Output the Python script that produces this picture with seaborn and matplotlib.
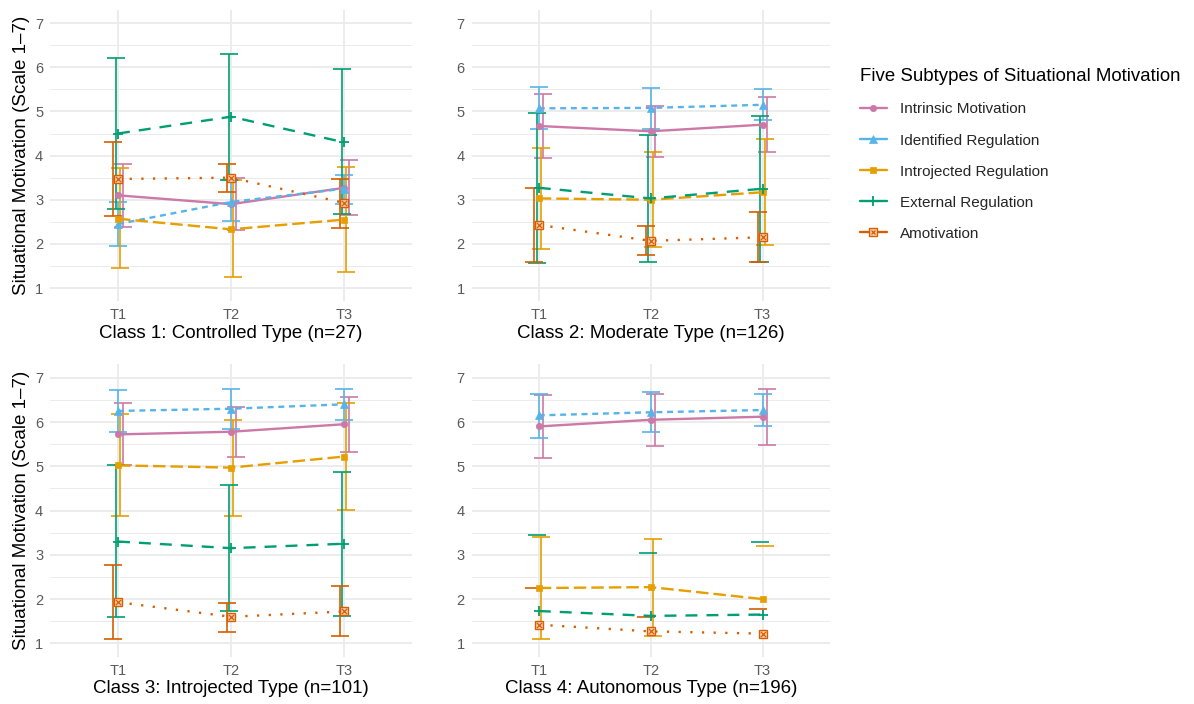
import numpy as np
import pandas as pd
import matplotlib
matplotlib.use("Agg")
import matplotlib.pyplot as plt
import seaborn as sns
from matplotlib.lines import Line2D
from matplotlib.ticker import MultipleLocator

# === data ===
times = ["T1", "T2", "T3"]
subtypes = ["Intrinsic Motivation", "Identified Regulation", "Introjected Regulation",
            "External Regulation", "Amotivation"]
class_titles = ["Class 1: Controlled Type (n=27)", "Class 2: Moderate Type (n=126)",
                "Class 3: Introjected Type (n=101)", "Class 4: Autonomous Type (n=196)"]

# rows follow subtypes, columns follow times
class1_mean = [[3.10, 2.90, 3.27], [2.45, 2.95, 3.25], [2.57, 2.33, 2.55], [4.50, 4.88, 4.30], [3.47, 3.50, 2.93]]
class1_low = [[2.38, 2.32, 2.65], [1.95, 2.52, 2.90], [1.45, 1.25, 1.37], [2.78, 3.45, 2.68], [2.63, 3.17, 2.35]]
class1_high = [[3.80, 3.50, 3.90], [2.95, 3.45, 3.55], [3.72, 3.45, 3.75], [6.20, 6.30, 5.95], [4.30, 3.82, 3.47]]

class2_mean = [[4.67, 4.55, 4.70], [5.07, 5.08, 5.15], [3.03, 3.00, 3.17], [3.27, 3.03, 3.25], [2.43, 2.07, 2.15]]
class2_low = [[3.95, 3.97, 4.07], [4.60, 4.60, 4.80], [1.88, 1.92, 1.97], [1.57, 1.60, 1.60], [1.60, 1.75, 1.60]]
class2_high = [[5.40, 5.13, 5.33], [5.55, 5.53, 5.50], [4.17, 4.07, 4.37], [4.97, 4.47, 4.90], [3.27, 2.40, 2.72]]

class3_mean = [[5.72, 5.78, 5.95], [6.25, 6.30, 6.40], [5.02, 4.97, 5.22], [3.30, 3.15, 3.25], [1.93, 1.60, 1.72]]
class3_low = [[5.02, 5.20, 5.33], [5.77, 5.85, 6.05], [3.88, 3.88, 4.02], [1.60, 1.72, 1.62], [1.10, 1.25, 1.17]]
class3_high = [[6.43, 6.35, 6.57], [6.73, 6.75, 6.75], [6.17, 6.05, 6.42], [5.02, 4.58, 4.88], [2.77, 1.92, 2.30]]

class4_mean = [[5.90, 6.05, 6.12], [6.15, 6.22, 6.27], [2.25, 2.27, 2.00], [1.73, 1.62, 1.65], [1.42, 1.27, 1.22]]
class4_low = [[5.18, 5.45, 5.48], [5.65, 5.78, 5.90], [1.10, 1.17, np.nan], [np.nan, np.nan, np.nan], [np.nan, np.nan, np.nan]]
class4_high = [[6.62, 6.63, 6.75], [6.63, 6.68, 6.63], [3.40, 3.35, 3.20], [3.45, 3.05, 3.28], [2.25, 1.60, 1.78]]

class_means = [class1_mean, class2_mean, class3_mean, class4_mean]
class_lows = [class1_low, class2_low, class3_low, class4_low]
class_highs = [class1_high, class2_high, class3_high, class4_high]

rows = []
for c, title in enumerate(class_titles):
    for s, sub in enumerate(subtypes):
        for t, tm in enumerate(times):
            rows.append({"cls": title, "subtype": sub, "time": tm, "t": t + 1,
                         "mean": class_means[c][s][t], "low": class_lows[c][s][t],
                         "high": class_highs[c][s][t]})
df = pd.DataFrame(rows)

# === style ===
colors = {"Intrinsic Motivation": "#CC79A7", "Identified Regulation": "#56B4E9",
          "Introjected Regulation": "#E69F00", "External Regulation": "#009E73",
          "Amotivation": "#D55E00"}
line_styles = {"Intrinsic Motivation": "-", "Identified Regulation": (0, (4.3, 3.4)),
               "Introjected Regulation": (0, (9.0, 3.6)), "External Regulation": (0, (8.6, 6.5)),
               "Amotivation": (0, (1.6, 6.8))}
markers = {"Intrinsic Motivation": "o", "Identified Regulation": "^",
           "Introjected Regulation": "s", "External Regulation": "+", "Amotivation": "s"}
marker_sizes = {"Intrinsic Motivation": 4.6, "Identified Regulation": 5.2,
                "Introjected Regulation": 4.6, "External Regulation": 7, "Amotivation": 5.2}
dodge = {"Intrinsic Motivation": 0.04, "Identified Regulation": 0.0,
         "Introjected Regulation": 0.02, "External Regulation": -0.02, "Amotivation": -0.04}
amot_fill = "#F8CDB0"

sns.set_theme(style="whitegrid")
plt.rcParams["font.family"] = ["Liberation Sans", "DejaVu Sans"]
plt.rcParams["lines.scale_dashes"] = False

fig = plt.figure(figsize=(11.94, 7.04), dpi=100)
rects = [[0.042, 0.572, 0.303, 0.414], [0.395, 0.572, 0.300, 0.414],
         [0.042, 0.0673, 0.303, 0.415], [0.395, 0.0673, 0.300, 0.415]]

for i, title in enumerate(class_titles):
    ax = fig.add_axes(rects[i])
    d = df[df["cls"] == title]

    # error bars, dodged a little
    for sub in subtypes:
        ds = d[d["subtype"] == sub]
        x = ds["t"] + dodge[sub]
        full = ds["low"].notna()
        if full.any():
            ax.errorbar(x[full], ds["mean"][full],
                        yerr=[ds["mean"][full] - ds["low"][full], ds["high"][full] - ds["mean"][full]],
                        fmt="none", ecolor=colors[sub], elinewidth=1.2, capsize=6.5,
                        capthick=1.2, zorder=2)
        if (~full).any():
            # lower end falls outside the scale: only the top cap is left
            ax.plot(x[~full], ds["high"][~full], ls="none", marker="_", ms=13,
                    mew=1.2, color=colors[sub], zorder=2)

    # lines + points
    for sub in subtypes:
        ds = d[d["subtype"] == sub]
        if sub == "Amotivation":
            sns.lineplot(data=ds, x="t", y="mean", color=colors[sub], linestyle=line_styles[sub],
                         linewidth=1.7, marker="s", markersize=marker_sizes[sub],
                         markerfacecolor=amot_fill, markeredgecolor=colors[sub],
                         markeredgewidth=1.0, ax=ax, zorder=3, legend=False)
            sns.scatterplot(data=ds, x="t", y="mean", marker="x", s=14, color=colors[sub],
                            linewidth=0.9, ax=ax, zorder=4, legend=False)
        else:
            sns.lineplot(data=ds, x="t", y="mean", color=colors[sub], linestyle=line_styles[sub],
                         linewidth=1.7, marker=markers[sub], markersize=marker_sizes[sub],
                         markeredgecolor=colors[sub], markeredgewidth=1.3 if sub == "External Regulation" else 0.5,
                         ax=ax, zorder=3, legend=False)

    ax.set_xlim(0.4, 3.6)
    ax.set_ylim(0.7, 7.3)
    ax.set_xticks([1, 2, 3])
    ax.set_xticklabels(times)
    ax.yaxis.set_major_locator(MultipleLocator(1))
    ax.yaxis.set_minor_locator(MultipleLocator(0.5))
    ax.grid(True, which="major", color="#EBEBEB", linewidth=1.3)
    ax.grid(True, which="minor", axis="y", color="#EBEBEB", linewidth=0.7)
    ax.set_axisbelow(True)
    for sp in ax.spines.values():
        sp.set_visible(False)
    ax.tick_params(axis="both", which="both", length=0, labelsize=10.5, colors="#5A5A5A", pad=5)
    ax.set_xlabel(title, fontsize=13.5, color="black", labelpad=2)
    if i % 2 == 0:
        ax.set_ylabel("Situational Motivation (Scale 1\u20137)", fontsize=13.5, color="black", labelpad=4)
    else:
        ax.set_ylabel("")

# legend
handles = []
for sub in subtypes:
    if sub == "Amotivation":
        sq = Line2D([], [], color=colors[sub], linestyle="-", linewidth=1.7, marker="s",
                    markersize=marker_sizes[sub], markerfacecolor=amot_fill,
                    markeredgecolor=colors[sub])
        cross = Line2D([], [], linestyle="none", marker="x", markersize=3.4,
                       markeredgewidth=0.9, color=colors[sub])
        h = (sq, cross)
    else:
        h = Line2D([], [], color=colors[sub], linestyle="-", linewidth=1.7, marker=markers[sub],
                   markersize=marker_sizes[sub], markeredgecolor=colors[sub],
                   markeredgewidth=1.3 if sub == "External Regulation" else 0.5)
    handles.append(h)
leg = fig.legend(handles, subtypes, loc="upper left", bbox_to_anchor=(0.720, 0.903),
                 frameon=False, title="Five Subtypes of Situational Motivation",
                 title_fontsize=13.4, fontsize=11, labelspacing=1.12, handlelength=1.8,
                 handletextpad=0.85, borderaxespad=0, borderpad=0, alignment="left")
leg.get_title().set_color("black")

fig.savefig("out.png", dpi=100)
